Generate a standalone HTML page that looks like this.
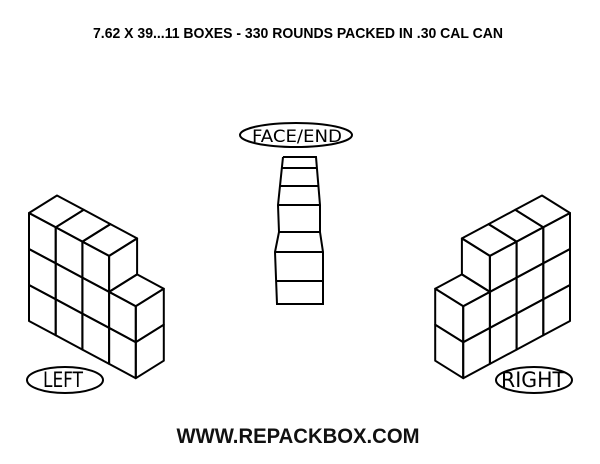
<!DOCTYPE html>
<html><head><meta charset="utf-8"><style>
html,body{margin:0;padding:0;background:#fff;}
svg{display:block;}
</style></head><body>
<svg width="600" height="464" viewBox="0 0 600 464" xmlns="http://www.w3.org/2000/svg">
<rect width="600" height="464" fill="#fff"/>
<text x="298" y="38" text-anchor="middle" font-family="Liberation Sans, sans-serif" font-weight="bold" font-size="15" textLength="410" lengthAdjust="spacingAndGlyphs">7.62 X 39...11 BOXES - 330 ROUNDS PACKED IN .30 CAL CAN</text>
<g id="left" fill="none" stroke="#000" stroke-width="2" stroke-linejoin="round"></g>
<g id="right" fill="none" stroke="#000" stroke-width="2" stroke-linejoin="round" transform="translate(599,0) scale(-1,1)"></g>
<g fill="none" stroke="#000" stroke-width="2">
<polyline points="283,157 316,157 320,205 320,232 323,252 323,304 277,304 275,252 279,232 278,205 283,157"/>
<line x1="282" y1="168" x2="317" y2="168"/>
<line x1="280" y1="186" x2="318" y2="186"/>
<line x1="278" y1="205" x2="320" y2="205"/>
<line x1="279" y1="232" x2="320" y2="232"/>
<line x1="275" y1="252" x2="323" y2="252"/>
<line x1="276" y1="281" x2="323" y2="281"/>
<ellipse cx="296" cy="135" rx="56" ry="12"/>
<ellipse cx="65" cy="380" rx="38" ry="13"/>
<ellipse cx="534" cy="380" rx="38" ry="13"/>
</g>
<text x="297" y="142" text-anchor="middle" font-family="DejaVu Sans, sans-serif" font-size="17" textLength="90" lengthAdjust="spacingAndGlyphs">FACE/END</text>
<text x="63" y="387" text-anchor="middle" font-family="DejaVu Sans, sans-serif" font-size="21" textLength="40" lengthAdjust="spacingAndGlyphs">LEFT</text>
<text x="533" y="387" text-anchor="middle" font-family="DejaVu Sans, sans-serif" font-size="21" textLength="64" lengthAdjust="spacingAndGlyphs">RIGHT</text>
<text x="298" y="443" text-anchor="middle" font-family="Liberation Sans, sans-serif" font-weight="bold" font-size="21" textLength="243" lengthAdjust="spacingAndGlyphs" fill="#111">WWW.REPACKBOX.COM</text>
</svg>
<script>
(function(){
var bx=29,by=321,f=[26.7,14.3],d=[28,-17.5],h=36;
var H=[3,3,3,2];
function p(i,z,k){return [bx+i*f[0]+k*d[0],by+i*f[1]+k*d[1]-z*h];}
function poly(a){return '<polygon points="'+a.map(function(q){return q[0].toFixed(1)+','+q[1].toFixed(1)}).join(' ')+'"/>';}
var s='';
for(var i=0;i<4;i++){
 for(var r=0;r<H[i];r++){
  s+=poly([p(i,r,0),p(i+1,r,0),p(i+1,r+1,0),p(i,r+1,0)]);
 }
 var t=H[i];
 s+=poly([p(i,t,0),p(i+1,t,0),p(i+1,t,1),p(i,t,1)]);
}
for(var r=0;r<2;r++) s+=poly([p(4,r,0),p(4,r,1),p(4,r+1,1),p(4,r+1,0)]);
s+=poly([p(3,2,0),p(3,2,1),p(3,3,1),p(3,3,0)]);
document.getElementById('left').innerHTML=s;
document.getElementById('right').innerHTML=s;
})();
</script>
</body></html>
